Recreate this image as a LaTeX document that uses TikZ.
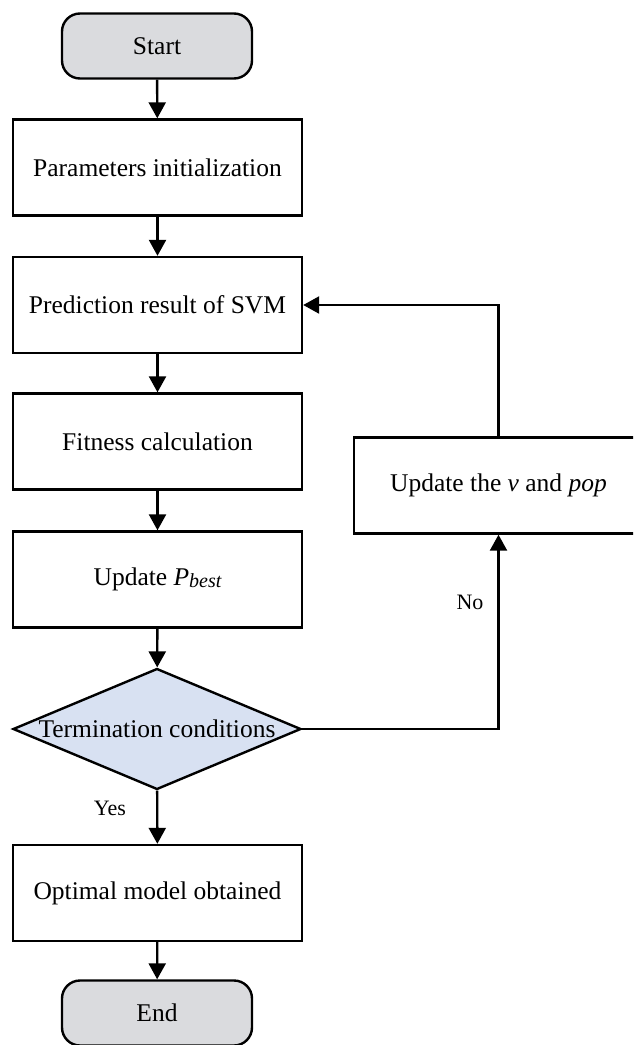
\documentclass[tikz,border=0pt]{standalone}
\usepackage{fontspec}
\setmainfont{Liberation Serif}
\usetikzlibrary{arrows.meta,shapes.geometric}
\definecolor{termgray}{RGB}{218,219,222}
\definecolor{decblue}{RGB}{216,225,242}
\begin{document}
\begin{tikzpicture}[x=1pt,y=-1pt,
  every node/.style={font=\fontsize{25.5}{30}\selectfont},
  proc/.style={draw, line width=2.4pt, minimum width=289pt, minimum height=96pt, inner sep=0pt, fill=white},
  term/.style={draw, line width=2.4pt, rounded corners=18pt, fill=termgray, minimum width=190pt, minimum height=65pt, inner sep=0pt},
  dec/.style={draw, diamond, line width=2.4pt, fill=decblue, minimum width=288pt, minimum height=121pt, inner sep=0pt, aspect=2.38},
  flow/.style={line width=2.4pt, -{Triangle[length=16pt,width=17pt]}},
  lbl/.style={font=\fontsize{22}{26}\selectfont}]
\useasboundingbox (0,0) rectangle (633,1045);
\clip (0,0) rectangle (633,1045);

\node[term] (start) at (157,46) {Start};
\node[proc] (params) at (157.5,167.5) {Parameters initialization};
\node[proc] (pred) at (157.5,305) {Prediction result of SVM};
\node[proc] (fit) at (157.5,441.5) {Fitness calculation};
\node[proc] (pbest) at (157.5,579.5) {Update \textit{P\raisebox{-0.15ex}{\fontsize{20}{20}\selectfont best}}};
\node[dec] (cond) at (157,729) {};
\node (condtext) at (cond.center) {Termination conditions};
\node[proc] (opt) at (157.5,893) {Optimal model obtained};
\node[term] (end) at (157,1013) {End};
\node[proc] (upd) at (498.5,485.5) {Update the \textit{v} and \textit{pop}};

\coordinate (nocorner) at (498.5,729);
\coordinate (fbcorner) at (498.5,305);

\draw[flow] (start) -- (params);
\draw[flow] (params) -- (pred);
\draw[flow] (pred) -- (fit);
\draw[flow] (fit) -- (pbest);
\draw[flow] (pbest) -- (cond);
\draw[flow] (cond) -- (opt);
\draw[flow] (opt) -- (end);
\draw[flow] (cond.east) -- (nocorner) -- (upd.south);
\draw[flow] (upd.north) -- (fbcorner) -- (pred.east);

\node[lbl] (yes) at (110,808) {Yes};
\node[lbl] (no) at (470,602) {No};
\end{tikzpicture}
\end{document}
